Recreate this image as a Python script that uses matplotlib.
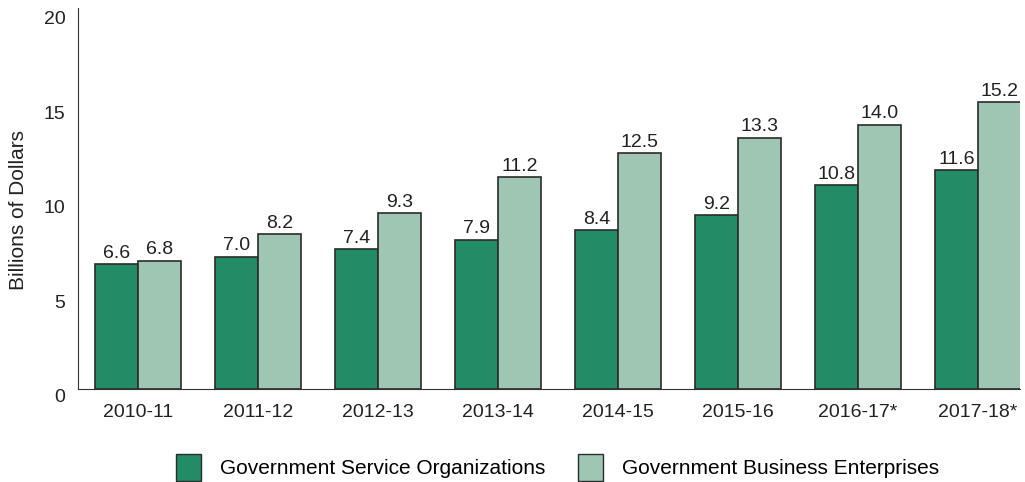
import numpy as np
import matplotlib.pyplot as plt
from matplotlib.patches import Patch

plt.rcParams['font.family'] = ['Liberation Sans', 'DejaVu Sans']

years = ['2010-11', '2011-12', '2012-13', '2013-14', '2014-15', '2015-16', '2016-17*', '2017-18*']
gso = [6.6, 7.0, 7.4, 7.9, 8.4, 9.2, 10.8, 11.6]
gbe = [6.8, 8.2, 9.3, 11.2, 12.5, 13.3, 14.0, 15.2]

dark = '#218c66'
light = '#9fc6b3'
edge = '#2b2b2b'

fig = plt.figure(figsize=(10.25, 4.82), dpi=100)
ax = fig.add_axes([0.0761, 0.193, 0.9189, 0.790])

x = np.arange(len(years))
w = 0.36
b1 = ax.bar(x - w / 2, gso, w, color=dark, edgecolor=edge, linewidth=1.2)
b2 = ax.bar(x + w / 2, gbe, w, color=light, edgecolor=edge, linewidth=1.2)

for bars, vals in ((b1, gso), (b2, gbe)):
    for r, v in zip(bars, vals):
        ax.text(r.get_x() + r.get_width() / 2, v + 0.12, f'{v:.1f}',
                ha='center', va='bottom', fontsize=14, color='#222222')

ax.set_xlim(-0.5, 7.35)
ax.set_ylim(0, 20.16)
ax.set_yticks([0, 5, 10, 15, 20])
ax.set_xticks(x)
ax.set_xticklabels(years)
ax.tick_params(axis='both', length=0, labelsize=14, colors='#222222')
ax.tick_params(axis='x', pad=11)
ax.tick_params(axis='y', pad=9)
for lab in ax.get_yticklabels():
    lab.set_verticalalignment('top')
ax.set_ylabel('Billions of Dollars', fontsize=15, color='#222222')
ax.yaxis.set_label_coords(-0.053, 0.47)

ax.spines['top'].set_visible(False)
ax.spines['right'].set_visible(False)
ax.spines['left'].set_color('#333333')
ax.spines['bottom'].set_color('#333333')

handles = [Patch(facecolor=dark, edgecolor=edge, label='Government Service Organizations'),
           Patch(facecolor=light, edgecolor=edge, label='Government Business Enterprises')]
fig.legend(handles=handles, loc='center', bbox_to_anchor=(0.544, 0.03), ncol=2,
           frameon=False, fontsize=15, handlelength=1.2, handleheight=1.6,
           columnspacing=1.6, handletextpad=0.9, borderpad=0)

fig.savefig('out.png', dpi=100)
